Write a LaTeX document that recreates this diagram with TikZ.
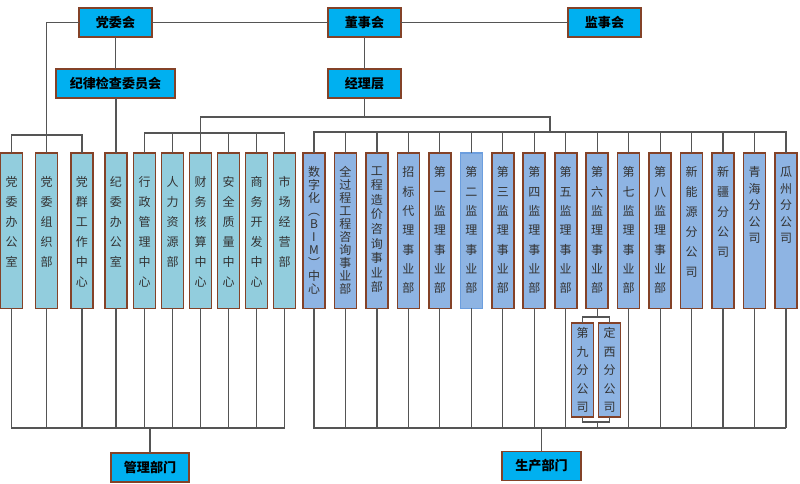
\documentclass[tikz,border=0pt]{standalone}
\usepackage{fontspec}
\setmainfont{Noto Sans CJK SC}
\usepackage{xcolor}
\usepackage{tikz}
\usetikzlibrary{positioning}
\usetikzlibrary{calc}

\definecolor{headblue}{RGB}{0,176,240}
\definecolor{adminblue}{RGB}{146,205,221}
\definecolor{prodblue}{RGB}{142,180,227}
\definecolor{rim}{RGB}{132,66,40}
\definecolor{rimblue}{RGB}{108,158,222}
\definecolor{wiregray}{RGB}{85,85,85}

% vertical text: [box height]{top gap}{line pitch}{characters}
\newcommand{\shu}[4][116.6pt]{\parbox[c][#1][t]{16pt}{\centering\fontsize{9pt}{#3}\selectfont\lineskiplimit=-20pt\vspace*{#2}#4}}

\tikzset{
  head/.style={draw=rim, line width=1.2pt, fill=headblue, minimum width=54.75pt, minimum height=21.75pt,
    inner sep=0pt, outer sep=0pt, font=\fontsize{9.8pt}{12pt}\selectfont\bfseries},
  mgmt/.style={draw=rim, line width=1.2pt, fill=adminblue, minimum width=16.5pt, inner sep=0pt, outer sep=0pt, text=black!80},
  prod/.style={mgmt, fill=prodblue},
  wire/.style={draw=wiregray, line width=0.9pt}
}

\begin{document}
\begin{tikzpicture}[x=0.75pt,y=-0.75pt]
\useasboundingbox (0,0) rectangle (800,483);

\node[head] (dw)  at (115.5,22.5) {党委会};
\node[head] (dsh) at (364.5,22.5) {董事会};
\node[head] (jsh) [right=125.25pt of dsh] {监事会};
\node[head,minimum width=89.25pt] (jjw) [below=24pt of dw] {纪律检查委员会};
\node[head] (jlc) [below=24pt of dsh] {经理层};

\node[mgmt] (a1) at (11.5,230.75)    {\shu{17.7pt}{15pt}{党\\委\\办\\公\\室}};
\node[mgmt] (a2) [right=9.75pt of a1] {\shu{17.7pt}{15pt}{党\\委\\组\\织\\部}};
\node[mgmt] (a3) [right=10.1pt of a2] {\shu{17.7pt}{15pt}{党\\群\\工\\作\\中\\心}};
\node[mgmt] (a4) [right=9pt of a3]    {\shu{17.7pt}{15pt}{纪\\委\\办\\公\\室}};
\node[mgmt] (a5) [right=4.9pt of a4]  {\shu{17.7pt}{15pt}{行\\政\\管\\理\\中\\心}};
\node[mgmt] (a6) [right=4.5pt of a5]  {\shu{17.7pt}{15pt}{人\\力\\资\\源\\部}};
\node[mgmt] (a7) [right=4.5pt of a6]  {\shu{17.7pt}{15pt}{财\\务\\核\\算\\中\\心}};
\node[mgmt] (a8) [right=4.5pt of a7]  {\shu{17.7pt}{15pt}{安\\全\\质\\量\\中\\心}};
\node[mgmt] (a9) [right=4.5pt of a8]  {\shu{17.7pt}{15pt}{商\\务\\开\\发\\中\\心}};
\node[mgmt] (a10) [right=4.5pt of a9] {\shu{17.7pt}{15pt}{市\\场\\经\\营\\部}};

\node[prod] (p1) at (314,230.75)      {\shu{10.2pt}{9.7pt}{数\\字\\化\\︵\\B\\I\\M\\︶\\中\\心}};
\node[prod] (p2) [right=7.1pt of p1]  {\shu{10.2pt}{9.7pt}{全\\过\\程\\工\\程\\咨\\询\\事\\业\\部}};
\node[prod] (p3) [right=7.1pt of p2]  {\shu{10.2pt}{10.9pt}{工\\程\\造\\价\\咨\\询\\事\\业\\部}};
\node[prod] (p4) [right=7.1pt of p3]  {\shu{10.2pt}{14.5pt}{招\\标\\代\\理\\事\\业\\部}};
\node[prod] (p5) [right=7.1pt of p4]  {\shu{10.2pt}{14.5pt}{第\\一\\监\\理\\事\\业\\部}};
\node[prod,draw=rimblue] (p6) [right=7.1pt of p5] {\shu{10.2pt}{14.5pt}{第\\二\\监\\理\\事\\业\\部}};
\node[prod] (p7) [right=7.1pt of p6]  {\shu{10.2pt}{14.5pt}{第\\三\\监\\理\\事\\业\\部}};
\node[prod] (p8) [right=7.1pt of p7]  {\shu{10.2pt}{14.5pt}{第\\四\\监\\理\\事\\业\\部}};
\node[prod] (p9) [right=7.1pt of p8]  {\shu{10.2pt}{14.5pt}{第\\五\\监\\理\\事\\业\\部}};
\node[prod] (p10) [right=7.1pt of p9] {\shu{10.2pt}{14.5pt}{第\\六\\监\\理\\事\\业\\部}};
\node[prod] (p11) [right=7.1pt of p10] {\shu{10.2pt}{14.5pt}{第\\七\\监\\理\\事\\业\\部}};
\node[prod] (p12) [right=7.1pt of p11] {\shu{10.2pt}{14.5pt}{第\\八\\监\\理\\事\\业\\部}};
\node[prod] (p13) [right=7.1pt of p12] {\shu{10.2pt}{15pt}{新\\能\\源\\分\\公\\司}};
\node[prod] (p14) [right=7.1pt of p13] {\shu{10.2pt}{15pt}{新\\疆\\分\\公\\司}};
\node[prod] (p15) [right=7.1pt of p14] {\shu{10.2pt}{12.4pt}{青\\海\\分\\公\\司}};
\node[prod] (p16) [right=7.1pt of p15] {\shu{10.2pt}{12.4pt}{瓜\\州\\分\\公\\司}};

\node[prod] (s9) at (582.5,370)         {\shu[70.5pt]{3.5pt}{13.8pt}{第\\九\\分\\公\\司}};
\node[prod] (sdx) [right=3.75pt of s9]  {\shu[70.5pt]{3.5pt}{13.8pt}{定\\西\\分\\公\\司}};

\node[head,minimum width=58.5pt,minimum height=21.75pt] (glbm) at (150,467.5) {管理部门};
\node[head,minimum width=59.25pt,minimum height=22pt] (scbm) at (541.5,466) {生产部门};

% top level
\draw[wire] (dw.west) -| (a2.north)
  (dw.east) -- (dsh.west)
  (dsh.east) -- (jsh.west)
  (dw.south) -- (dw.south |- jjw.north)
  (jjw.south -| a4.north) -- (a4.north)
  (dsh.south) -- (jlc.north);

% upper buses
\draw[wire] (a1.north) -- ++(0,-18) -| (a3.north);
\draw[wire] (a5.north) -- ++(0,-20) coordinate (ga) -| (a10.north)
  (a6.north) -- ++(0,-20) (a7.north) -- ++(0,-20)
  (a8.north) -- ++(0,-20) (a9.north) -- ++(0,-20);
\draw[wire] (p1.north) -- ++(0,-21) coordinate (pb) -| (p16.north)
  (p2.north) -- ++(0,-21) (p3.north) -- ++(0,-21) (p4.north) -- ++(0,-21)
  (p5.north) -- ++(0,-21) (p6.north) -- ++(0,-21) (p7.north) -- ++(0,-21)
  (p8.north) -- ++(0,-21) (p9.north) -- ++(0,-21) (p10.north) -- ++(0,-21)
  (p11.north) -- ++(0,-21) (p12.north) -- ++(0,-21) (p13.north) -- ++(0,-21)
  (p14.north) -- ++(0,-21) (p15.north) -- ++(0,-21);
\coordinate (pm) at ($(p8)!0.5!(p9)$);
\draw[wire] (jlc.south) -- ++(0,19) coordinate (jl)
  (a7 |- ga) -- (a7 |- jl) -- (pm |- jl) -- (pm |- pb);

% lower buses
\coordinate (mb) at (0,428);
\draw[wire] (a1.south) -- (a1 |- mb) -- (a10 |- mb)
  (a2.south) -- (a2 |- mb) (a3.south) -- (a3 |- mb) (a4.south) -- (a4 |- mb)
  (a5.south) -- (a5 |- mb) (a6.south) -- (a6 |- mb) (a7.south) -- (a7 |- mb)
  (a8.south) -- (a8 |- mb) (a9.south) -- (a9 |- mb) (a10.south) -- (a10 |- mb)
  (glbm.north) -- (glbm |- mb);
\draw[wire] (p1.south) -- (p1 |- mb) -- (p16 |- mb)
  (p2.south) -- (p2 |- mb) (p3.south) -- (p3 |- mb) (p4.south) -- (p4 |- mb)
  (p5.south) -- (p5 |- mb) (p6.south) -- (p6 |- mb) (p7.south) -- (p7 |- mb)
  (p8.south) -- (p8 |- mb) (p9.south) -- (p9 |- mb) (p11.south) -- (p11 |- mb)
  (p12.south) -- (p12 |- mb) (p13.south) -- (p13 |- mb) (p14.south) -- (p14 |- mb)
  (p15.south) -- (p15 |- mb) (p16.south) -- (p16 |- mb)
  (scbm.north) -- (scbm |- mb);
\draw[wire] (p10.south) -- ++(0,8.5) coordinate (k1)
  (s9.north) |- (k1) -| (sdx.north)
  (s9.south) -- ++(0,5) coordinate (k2) -| (sdx.south)
  (k2 -| p10) -- (p10 |- mb);

\end{tikzpicture}
\end{document}
